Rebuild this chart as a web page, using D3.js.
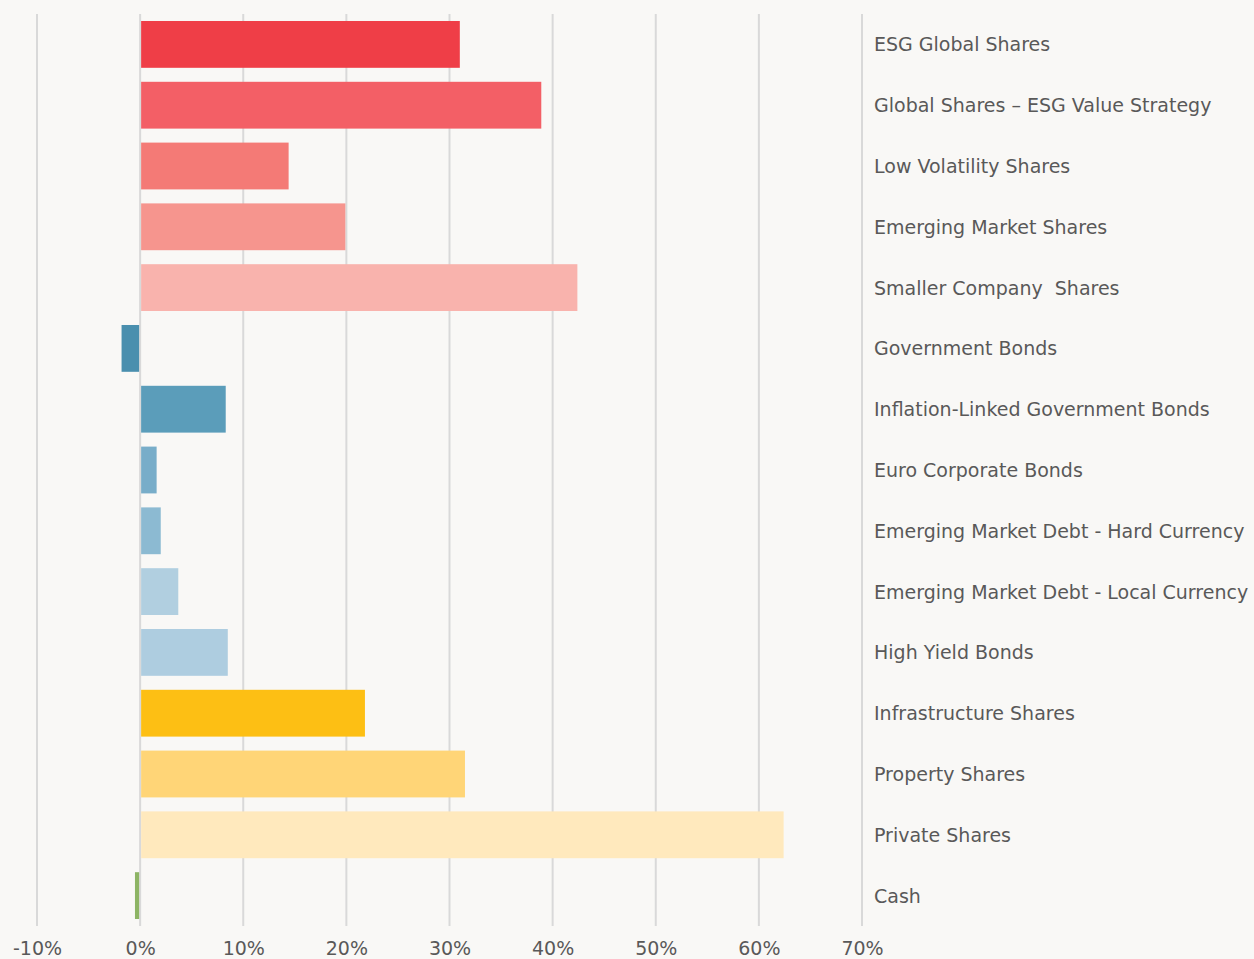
<!DOCTYPE html>
<html>
<head>
<meta charset="utf-8">
<script src="https://cdn.jsdelivr.net/npm/d3@7"></script>
<style>
  body { margin: 0; background: #f9f8f6; }
  text { font-family: "DejaVu Sans", sans-serif; fill: #595959; white-space: pre; }
</style>
</head>
<body>
<div id="main"></div>
<script>
'use strict'

// categories, values (in %) and bar colours
const categories = [
  "ESG Global Shares",
  "Global Shares \u2013 ESG Value Strategy",
  "Low Volatility Shares",
  "Emerging Market Shares",
  "Smaller Company  Shares",
  "Government Bonds",
  "Inflation-Linked Government Bonds",
  "Euro Corporate Bonds",
  "Emerging Market Debt - Hard Currency",
  "Emerging Market Debt - Local Currency",
  "High Yield Bonds",
  "Infrastructure Shares",
  "Property Shares",
  "Private Shares",
  "Cash"
];
const values = [31.0, 38.9, 14.4, 19.9, 42.4, -1.8, 8.3, 1.6, 2.0, 3.7, 8.5, 21.8, 31.5, 62.4, -0.5];
const colors = [
  "#ef3e47", "#f35f66", "#f47a76", "#f6958e", "#f9b3ad",
  "#4a8fae", "#5b9dba", "#78adc9", "#8cbad2", "#b1cfe0", "#aecde0",
  "#fdbf14", "#ffd577", "#ffe9bd", "#8db464"
];
const tickValues = [-10, 0, 10, 20, 30, 40, 50, 60, 70];

let svgWidth = 1254;
let svgHeight = 959;

let svg = d3.select('#main')
  .append('svg')
  .attr('width', svgWidth)
  .attr('height', svgHeight);

let xScale = d3.scaleLinear()
  .domain([-10, 70])
  .range([37, 862]);

let yScale = d3.scaleBand()
  .domain(categories)
  .range([14, 926])
  .paddingInner(0.23)
  .paddingOuter(0.115);

// gridlines
svg.append("g")
  .selectAll("line")
  .data(tickValues)
  .enter()
  .append("line")
  .attr("x1", d => xScale(d))
  .attr("x2", d => xScale(d))
  .attr("y1", 14)
  .attr("y2", 926)
  .attr("stroke", "#d9d9d9")
  .attr("stroke-width", 2);

// bottom axis labels
const xAxis = d3.axisBottom(xScale)
  .tickValues(tickValues)
  .tickSize(0)
  .tickPadding(0)
  .tickFormat(d => d + "%");

let xg = svg.append("g")
  .attr("transform", "translate(0, 941)")
  .call(xAxis);
xg.select(".domain").remove();
xg.selectAll("text")
  .attr("font-size", "19px")
  .attr("dy", "0.75em")
  .attr("fill", "#595959");

// bars, kept clear of the zero line
svg.selectAll("rect.bar")
  .data(categories)
  .enter()
  .append("rect")
  .attr("class", "bar")
  .attr("x", (d, i) => values[i] < 0 ? xScale(values[i]) : xScale(0) + 1)
  .attr("y", d => yScale(d))
  .attr("width", (d, i) => Math.abs(xScale(values[i]) - xScale(0)) - 1)
  .attr("height", yScale.bandwidth())
  .attr("fill", (d, i) => colors[i]);

// category labels on the right
const yAxis = d3.axisRight(yScale)
  .tickSize(0)
  .tickPadding(0);

let yg = svg.append("g")
  .attr("transform", "translate(874, 1)")
  .call(yAxis);
yg.select(".domain").remove();
yg.selectAll("text")
  .attr("font-size", "19px")
  .attr("fill", "#595959");
</script>
</body>
</html>
